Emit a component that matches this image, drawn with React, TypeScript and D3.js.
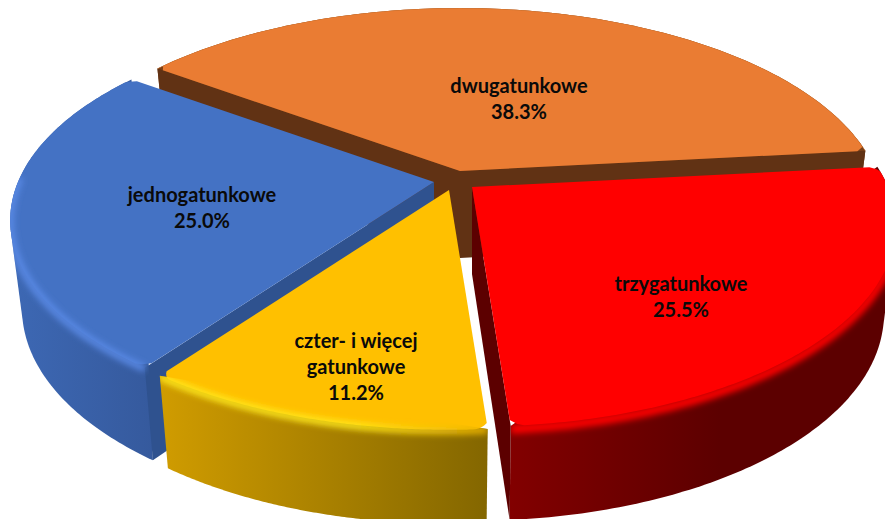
import React from "react";
import * as d3 from "d3";

const categories = ["dwugatunkowe", "trzygatunkowe", "cztero", "jednogatunkowe"];
const values = [38.3, 25.5, 11.2, 25.0];
const labelLines = [
  ["dwugatunkowe", "38.3%"],
  ["trzygatunkowe", "25.5%"],
  ["czter- i więcej", "gatunkowe", "11.2%"],
  ["jednogatunkowe", "25.0%"],
];

const W = 885;
const H = 519;
const START = (-54 * Math.PI) / 180;
const K = 0.191; // perspective strength
const RX = 416;
const RY = 194;
const SHRINK = 0.972; // lower rim converges towards the centre
const apexes = [
  [460, 171],
  [472, 187],
  [449, 190],
  [434, 182],
];
const labelCenters = [
  [519, 88],
  [681, 286],
  [356, 343],
  [202, 197],
];
const styles = [
  { top: "#ea7c33", cut: "#613214", wall: ["#7a4018", "#7a4018"], rim: ["#d2742f", "#c8702c"], rimW: 1, rimBlur: 0.5, rimDy: 0, cuts: [0, 1] },
  { top: "#ff0000", cut: "#5c0000", wall: ["#820000", "#5c0000"], rim: ["#ff0000", "#ff0000"], rimW: 9, rimBlur: 3, rimDy: 3, cuts: [1] },
  { top: "#ffc000", cut: "#8a6c00", wall: ["#d09c00", "#836600"], rim: ["#ffe81a", "#e8ae00"], rimW: 7, rimBlur: 3, rimDy: 1, cuts: [] as number[] },
  { top: "#4472c4", cut: "#2f528f", wall: ["#3d68b4", "#35599c"], rim: ["#5a8ae6", "#5a8ae6"], rimW: 7, rimBlur: 3, rimDy: 1, cuts: [0] },
];
const wallRanges = [
  [600, 880],
  [510, 720],
  [160, 490],
  [10, 160],
];

const xs = d3.scaleLinear().domain([-1, 1]).range([-RX, RX]);
const ys = d3.scaleLinear().domain([-1, 1]).range([-RY, RY]);
const depth = d3.scaleLinear().domain([-1, 1]).range([80, 94]);

type P = [number, number];
function project(angle: number, r: number, apex: number[]): P {
  const u = r * Math.sin(angle);
  const v = -r * Math.cos(angle);
  const s = 1 / (1 - K * v);
  return [apex[0] + xs(u) * s, apex[1] + ys(v) * s];
}
const drop = (p: P, angle: number, apex: number[]): P => [
  apex[0] + (p[0] - apex[0]) * SHRINK,
  p[1] + depth(-Math.cos(angle)),
];
const line = d3.line<P>();

const arcs = d3
  .pie<number>()
  .sort(null)
  .value((d) => d)
  .startAngle(START)
  .endAngle(START + Math.PI * 2)(values);

const COUNT = 120;
function samples(a0: number, a1: number): number[] {
  return d3.range(0, COUNT + 1).map((i) => a0 + ((a1 - a0) * i) / COUNT);
}
// rounded corners: the radius tapers slightly right at the two ends of the arc
const DELTA = (1.6 * Math.PI) / 180;
const TAPER = 0.02;
function roundedR(t: number, a0: number, a1: number): number {
  const d = Math.min(t - a0, a1 - t);
  if (d >= DELTA) return 1;
  const f = 1 - d / DELTA;
  return 1 - TAPER * f * f;
}

function Slice({ i }: { i: number }) {
  const a = arcs[i];
  const st = styles[i];
  const apex = apexes[i];
  const ang = samples(a.startAngle, a.endAngle);
  const edgePts = ang.map((t) => project(t, 1, apex));
  const topPts = ang.map((t) => project(t, roundedR(t, a.startAngle, a.endAngle), apex));
  const botPts = ang.map((t, j) => drop(edgePts[j], t, apex));
  const apexDrop: P = [apex[0], apex[1] + depth(0)];
  const top = line([apex as P, ...topPts]) + "Z";
  const hull = d3.polygonHull([...edgePts, ...botPts])!;
  const wall = line(hull as P[]) + "Z";
  const cutPaths = st.cuts.map((c) => {
    const k = c === 0 ? 0 : COUNT;
    return line([apex as P, edgePts[k], botPts[k], apexDrop]) + "Z";
  });
  const visible = ang
    .filter((t) => -Math.cos(t) > (i === 0 ? -2 : -0.03))
    .map((t) => {
      const p = project(t, 1, apex);
      return [p[0], p[1] + st.rimDy] as P;
    });
  return (
    <g>
      <defs>
        <linearGradient id={`w${i}`} gradientUnits="userSpaceOnUse" x1={wallRanges[i][0]} x2={wallRanges[i][1]} y1={0} y2={0}>
          <stop offset="0" stopColor={st.wall[0]} />
          <stop offset="1" stopColor={st.wall[1]} />
        </linearGradient>
        <linearGradient id={`r${i}`} gradientUnits="userSpaceOnUse" x1={wallRanges[i][0]} x2={wallRanges[i][1]} y1={0} y2={0}>
          <stop offset="0" stopColor={st.rim[0]} />
          <stop offset="0.6" stopColor={st.rim[0]} />
          <stop offset="1" stopColor={st.rim[1]} />
        </linearGradient>
        <filter id={`b${i}`} filterUnits="userSpaceOnUse" x={0} y={0} width={W} height={H + 100}>
          <feGaussianBlur stdDeviation={st.rimBlur} />
        </filter>
        <clipPath id={`c${i}`}>
          <path d={wall} />
        </clipPath>
      </defs>
      <path d={wall} fill={`url(#w${i})`} />
      {cutPaths.map((d, j) => (
        <path key={j} d={d} fill={st.cut} />
      ))}
      <path d={top} fill={st.top} />
      <g clipPath={`url(#c${i})`}>
        <path d={line(visible)!} fill="none" stroke={`url(#r${i})`} strokeWidth={st.rimW} filter={`url(#b${i})`} />
      </g>
    </g>
  );
}

export default function App() {
  return (
    <svg
      width={W}
      height={H}
      viewBox={`0 0 ${W} ${H}`}
      style={{ position: "absolute", left: 0, top: 0, display: "block", background: "#fff" }}
    >
      {[0, 3, 1, 2].map((i) => (
        <Slice key={categories[i]} i={i} />
      ))}
      {labelLines.map((lines, i) =>
        lines.map((t, j) => (
          <text
            key={t + i}
            x={labelCenters[i][0]}
            y={labelCenters[i][1] + j * 26}
            textAnchor="middle"
            dominantBaseline="middle"
            fontFamily="Lato, 'Open Sans', sans-serif"
            fontWeight={700}
            fontSize={20}
            fill="#0a0a0a"
          >
            {t}
          </text>
        ))
      )}
    </svg>
  );
}
